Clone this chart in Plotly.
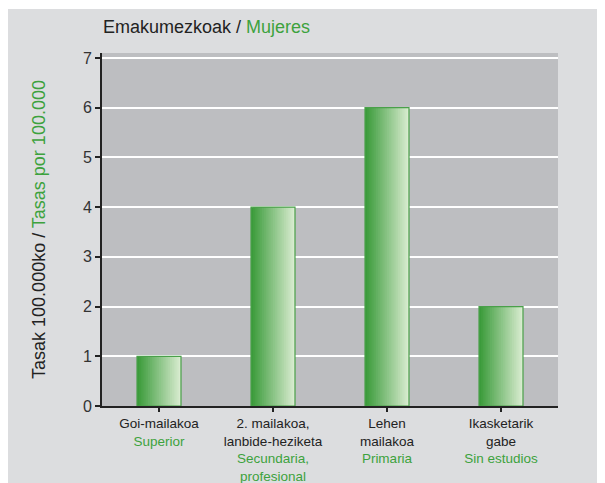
import plotly.graph_objects as go

# categories (Basque / Spanish) and rates per 100.000
cats_eu = ["Goi-mailakoa", "2. mailakoa,<br>lanbide-heziketa", "Lehen<br>mailakoa", "Ikasketarik<br>gabe"]
cats_es = ["Superior", "Secundaria,<br>profesional", "Primaria", "Sin estudios"]
values = [1, 4, 6, 2]
y_ticks = [0, 1, 2, 3, 4, 5, 6, 7]

GREEN = "#3da23d"
DARK = "#222222"
OUTER = "#dcdddf"
PLOT_BG = "#bdbec1"

x_keys = list(range(len(values)))
tick_text = [f"{eu}<br><span style='color:{GREEN}'>{es}</span>" for eu, es in zip(cats_eu, cats_es)]

# gradient bars: overlapping slices, each one lighter and starting further right
bar_w = 0.386
n_slices = 24
c0 = (58, 155, 58)
c1 = (216, 235, 207)

fig = go.Figure()
for i in range(n_slices):
    t = i / (n_slices - 1)
    col = "rgb({},{},{})".format(*[round(a + (b - a) * t) for a, b in zip(c0, c1)])
    fig.add_trace(go.Bar(
        x=x_keys, y=values,
        width=bar_w - i * bar_w / n_slices,
        offset=-bar_w / 2 + i * bar_w / n_slices,
        marker=dict(color=col, line=dict(width=0)),
        hoverinfo="skip", showlegend=False,
    ))

# outline
fig.add_trace(go.Bar(
    x=x_keys, y=values, width=bar_w, offset=-bar_w / 2,
    marker=dict(color="rgba(0,0,0,0)", line=dict(color="#4aa04a", width=1.2)),
    showlegend=False,
))

# the page puts the figure 8px in from the top-left corner
L, R, T, B = 94, 55, 45, 85
W, H = 605, 483
pw, ph = W - L - R, H - T - B

fig.update_layout(
    template="none",
    width=W, height=H,
    margin=dict(l=L, r=R, t=T, b=B, autoexpand=False),
    barmode="overlay",
    paper_bgcolor="white",
    plot_bgcolor="rgba(0,0,0,0)",
    font=dict(family="Liberation Sans, Arial, sans-serif", color="#333333", size=15),
    title=dict(
        text=f"<span style='color:{DARK}'>Emakumezkoak / </span><span style='color:{GREEN}'>Mujeres</span>",
        font=dict(size=18),
        x=95 / W, xanchor="left", xref="container",
        y=1 - 19 / H, yanchor="middle", yref="container",
    ),
    xaxis=dict(
        range=[-0.5, 3.5], automargin=False,
        tickmode="array", tickvals=x_keys, ticktext=tick_text,
        tickson="boundaries", ticks="outside", ticklen=4, tickwidth=2, tickcolor=DARK,
        showline=True, linecolor=DARK, linewidth=2,
        showgrid=False, zeroline=False,
        tickfont=dict(size=13.5, color=DARK),
    ),
    yaxis=dict(
        range=[0, 7.1], automargin=False,
        tickvals=y_ticks,
        ticks="outside", ticklen=5, tickwidth=2, tickcolor=DARK,
        showline=True, linecolor=DARK, linewidth=2,
        showgrid=True, gridcolor="white", gridwidth=1.5,
        zeroline=False,
        tickfont=dict(size=16, color="#333333"),
        title=dict(
            text=f"<span style='color:{DARK}'>Tasak 100.000ko / </span><span style='color:{GREEN}'>Tasas por 100.000</span>",
            font=dict(size=18),
            standoff=33,
        ),
    ),
    shapes=[
        # outer grey panel
        dict(type="rect", xref="paper", yref="paper", layer="below",
             x0=(0 - L) / pw, x1=(595 - L) / pw,
             y0=(H - B - 476) / ph, y1=(H - B - 1) / ph,
             fillcolor=OUTER, line=dict(width=0)),
        # plot area
        dict(type="rect", xref="paper", yref="paper", layer="below",
             x0=0, x1=1, y0=0, y1=1,
             fillcolor=PLOT_BG, line=dict(width=0)),
        # dark reference line at 1
        dict(type="line", xref="paper", yref="y", layer="below",
             x0=0, x1=1, y0=1, y1=1,
             line=dict(color="#5a5a5c", width=1.5)),
    ],
)

fig.write_html("out.html")
